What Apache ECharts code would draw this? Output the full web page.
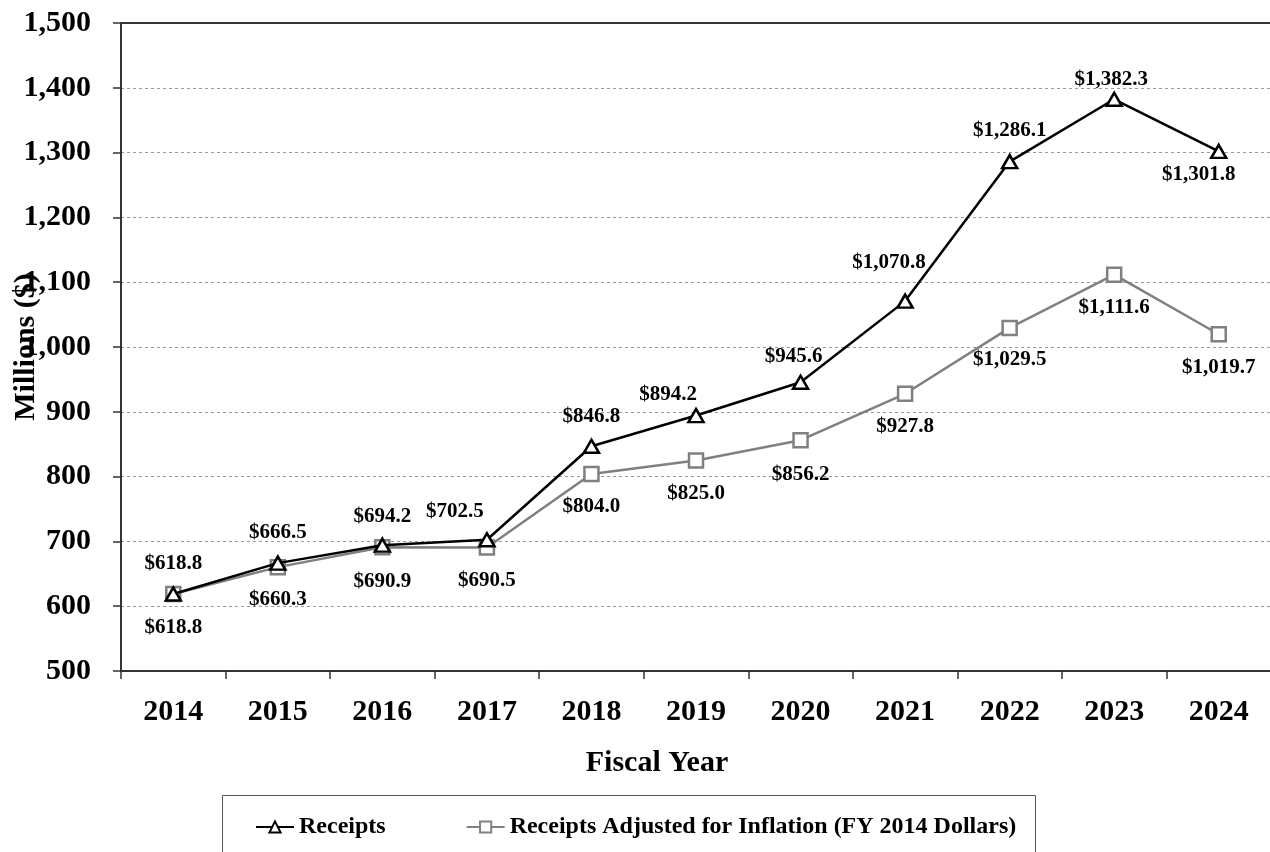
<!DOCTYPE html>
<html>
<head>
<meta charset="utf-8">
<script src="https://cdn.jsdelivr.net/npm/echarts@6/dist/echarts.min.js"></script>
<style>
html,body{margin:0;padding:0;background:#fff;}
#chart{width:1270px;height:852px;}
</style>
</head>
<body>
<div id="chart"></div>
<script>
const years = ['2014','2015','2016','2017','2018','2019','2020','2021','2022','2023','2024'];
const receipts = [618.8, 666.5, 694.2, 702.5, 846.8, 894.2, 945.6, 1070.8, 1286.1, 1382.3, 1301.8];
const adjusted = [618.8, 660.3, 690.9, 690.5, 804.0, 825.0, 856.2, 927.8, 1029.5, 1111.6, 1019.7];
const receiptsLabelOffsets = [[0,-30],[0,-31],[0,-29],[-32,-28],[0,-30],[-28,-21],[-7,-26],[-16,-39],[0,-31],[-3,-20],[-20,23]];
const adjustedLabelOffsets = [[0,34],[0,32],[0,34],[0,33],[0,33],[0,33],[0,34],[0,33],[0,32],[0,33],[0,33]];

const FONT = '"Liberation Serif","Times New Roman",serif';
const fmt = v => '$' + v.toLocaleString('en-US', {minimumFractionDigits:1, maximumFractionDigits:1});

const chart = echarts.init(document.getElementById('chart'));
const labelBase = {show:true, position:'inside', fontFamily:FONT, fontSize:21, fontWeight:'bold', color:'#000'};

chart.setOption({
  backgroundColor:'#fff',
  animation:false,
  grid:{left:121, top:23, width:1150, height:648, outerBoundsMode:'none', containLabel:false},
  legend:{
    left:250, top:810, itemGap:80, itemWidth:38, itemHeight:14,
    textStyle:{fontFamily:FONT, fontSize:24, fontWeight:'bold', color:'#000'},
    data:['Receipts','Receipts Adjusted for Inflation (FY 2014 Dollars)']
  },
  graphic:[
    {type:'rect', shape:{x:222.5, y:795.5, width:813, height:80}, style:{fill:null, stroke:'#555', lineWidth:1}},
    {type:'text', x:657, y:763, style:{text:'Fiscal Year', font:'bold 30px "Liberation Serif", serif', fill:'#000', align:'center', verticalAlign:'middle'}}
  ],
  xAxis:[{
    type:'category', data:years, boundaryGap:true,
    axisLine:{lineStyle:{color:'#333', width:2}},
    axisTick:{show:true, length:8, lineStyle:{color:'#333', width:1.5}},
    axisLabel:{margin:26, fontFamily:FONT, fontSize:30, fontWeight:'bold', color:'#000'}
  },{
    type:'category', data:years, position:'top',
    axisLine:{lineStyle:{color:'#333', width:2}},
    axisTick:{show:false}, axisLabel:{show:false}, splitLine:{show:false}
  }],
  yAxis:{
    type:'value', min:500, max:1500, interval:100,
    axisLine:{show:true, lineStyle:{color:'#333', width:2}},
    axisTick:{show:true, length:8, lineStyle:{color:'#333', width:1.5}},
    axisLabel:{margin:30, fontFamily:FONT, fontSize:30, fontWeight:'bold', color:'#000',
      formatter:v => v.toLocaleString('en-US')},
    splitLine:{show:true, lineStyle:{color:'#999', width:1, type:[3,3]}},
    name:'Millions ($)', nameLocation:'middle', nameGap:80, nameMoveOverlap:false,
    nameTextStyle:{fontFamily:FONT, fontSize:30, fontWeight:'bold', color:'#000'}
  },
  series:[{
    name:'Receipts', type:'line', xAxisIndex:0,
    data:receipts.map((v,i)=>({value:v, label:Object.assign({}, labelBase, {offset:receiptsLabelOffsets[i]})})),
    symbol:'triangle', symbolSize:[15,13],
    itemStyle:{color:'#fff', borderColor:'#000', borderWidth:2.5},
    lineStyle:{color:'#000', width:2.5},
    label:Object.assign({}, labelBase, {formatter:p=>fmt(p.value)}),
    z:3
  },{
    name:'Receipts Adjusted for Inflation (FY 2014 Dollars)', type:'line', xAxisIndex:0,
    data:adjusted.map((v,i)=>({value:v, label:Object.assign({}, labelBase, {offset:adjustedLabelOffsets[i]})})),
    symbol:'rect', symbolSize:14,
    itemStyle:{color:'#fff', borderColor:'#808080', borderWidth:2.5},
    lineStyle:{color:'#808080', width:2.5},
    label:Object.assign({}, labelBase, {formatter:p=>fmt(p.value)}),
    z:2
  }]
});
</script>
</body>
</html>
